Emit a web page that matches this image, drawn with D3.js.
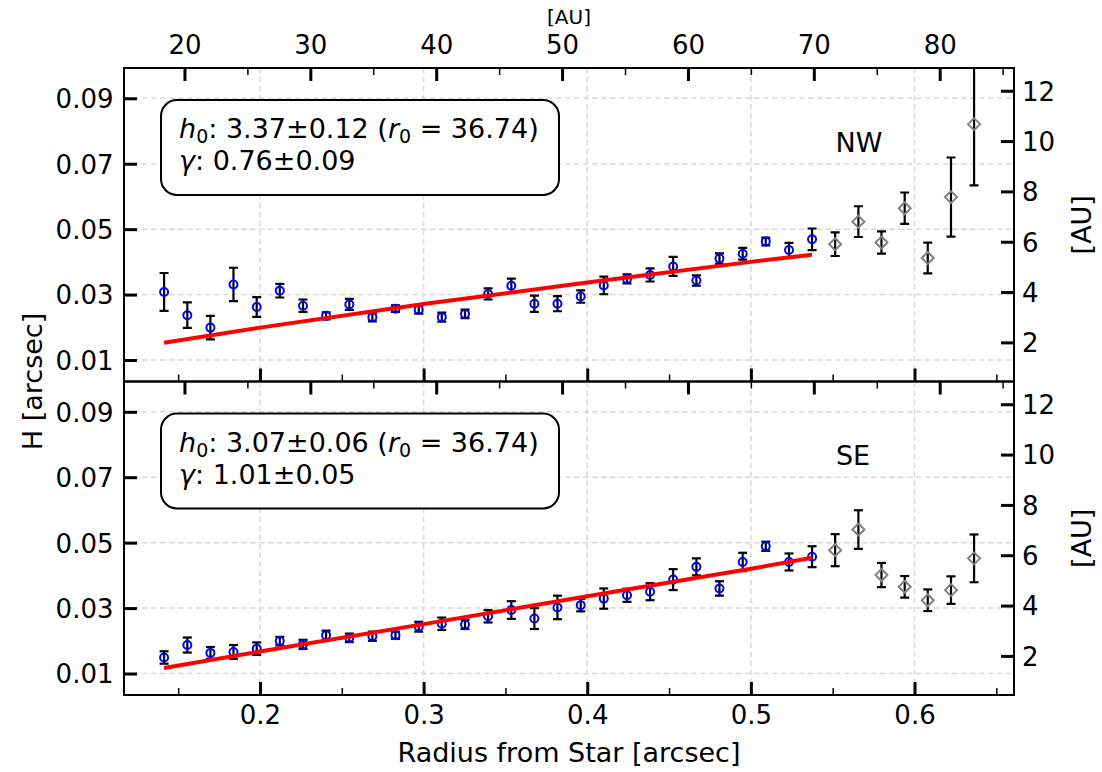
<!DOCTYPE html>
<html><head><meta charset="utf-8">
<script src="https://cdn.jsdelivr.net/npm/d3@7"></script>
<style>body{margin:0;background:#fff} text{font-family:'DejaVu Sans',sans-serif}</style>
</head><body><svg id="c" width="1102" height="772" xmlns="http://www.w3.org/2000/svg"></svg>
<script>
// ---------- data ----------
const radiusInner = [0.1414,0.1556,0.1697,0.1838,0.1980,0.2121,0.2263,0.2404,0.2546,0.2687,
  0.2828,0.2970,0.3111,0.3253,0.3394,0.3536,0.3677,0.3818,0.3960,0.4101,
  0.4243,0.4384,0.4525,0.4667,0.4808,0.4950,0.5091,0.5233,0.5374];
const radiusOuter = [0.5515,0.5657,0.5798,0.5940,0.6081,0.6223,0.6364];

const nwH   = [0.0308,0.0237,0.0199,0.0331,0.0262,0.0312,0.0266,0.0235,0.0270,0.0231,
  0.0257,0.0254,0.0231,0.0241,0.0302,0.0327,0.0272,0.0272,0.0294,0.0328,
  0.0348,0.0360,0.0386,0.0343,0.0410,0.0425,0.0462,0.0436,0.0469];
const nwErr = [0.0058,0.0039,0.0036,0.0051,0.0030,0.0021,0.0019,0.0011,0.0017,0.0013,
  0.0010,0.0012,0.0014,0.0013,0.0017,0.0022,0.0025,0.0023,0.0019,0.0027,
  0.0014,0.0020,0.0029,0.0016,0.0016,0.0018,0.0012,0.0022,0.0033];
const nwOuterH   = [0.0454,0.0523,0.0459,0.0564,0.0412,0.0598,0.0821];
const nwOuterErr = [0.0036,0.0047,0.0034,0.0048,0.0047,0.0121,0.0187];

const seH   = [0.0149,0.0187,0.0163,0.0166,0.0176,0.0199,0.0189,0.0217,0.0209,0.0214,
  0.0217,0.0243,0.0252,0.0250,0.0275,0.0294,0.0268,0.0302,0.0309,0.0329,
  0.0339,0.0350,0.0387,0.0426,0.0360,0.0441,0.0489,0.0441,0.0457];
const seErr = [0.0019,0.0023,0.0018,0.0021,0.0019,0.0013,0.0014,0.0014,0.0013,0.0014,
  0.0011,0.0015,0.0019,0.0014,0.0019,0.0027,0.0032,0.0036,0.0019,0.0031,
  0.0020,0.0026,0.0032,0.0026,0.0022,0.0028,0.0014,0.0026,0.0032];
const seOuterH   = [0.0477,0.0540,0.0401,0.0365,0.0324,0.0355,0.0452];
const seOuterErr = [0.0049,0.0059,0.0037,0.0033,0.0033,0.0042,0.0073];

// fit lines
const fitRadius = [0.1414,0.2,0.3,0.4,0.5,0.5374];
const nwFit = [0.0153,0.0199,0.0271,0.0337,0.0400,0.0422];
const seFit = [0.0117,0.0167,0.0251,0.0336,0.0420,0.0454];

const panelNames  = ["NW","SE"];
const h0Labels    = ["3.37\u00b10.12","3.07\u00b10.06"];
const gammaLabels = ["0.76\u00b10.09","1.01\u00b10.05"];
const r0Label = "36.74";

const xTicks  = [0.2,0.3,0.4,0.5,0.6];
const xMinor  = [0.15,0.25,0.35,0.45,0.55,0.65];
const auTicks = [20,30,40,50,60,70,80];
const auMinor = [25,35,45,55,65,75,85];
const yTicks  = [0.01,0.03,0.05,0.07,0.09];
const auYTicks = [2,4,6,8,10,12];
const DIST = 130; // pc: AU = arcsec * DIST

// ---------- layout ----------
const L = 124, R = 1014, T = 68, MID = 381.5, B = 695;
const xDom = [0.1169, 0.6608], yDom = [0.00343, 0.09926];
const svg = d3.select('#c');
const x = d3.scaleLinear().domain(xDom).range([L, R]);
const xAU = d3.scaleLinear().domain(xDom.map(v => v * DIST)).range([L, R]);
const FONT = 26, LFONT = 27, BFONT = 27;

const panels = [
  {name: panelNames[0], h: nwH, e: nwErr, oh: nwOuterH, oe: nwOuterErr, fit: nwFit, h0: h0Labels[0], g: gammaLabels[0], top: T, bot: MID},
  {name: panelNames[1], h: seH, e: seErr, oh: seOuterH, oe: seOuterErr, fit: seFit, h0: h0Labels[1], g: gammaLabels[1], top: MID, bot: B}
];

function styleAxis(sel, w) {
  sel.select('.domain').remove();
  sel.attr('font-family', 'DejaVu Sans').attr('font-size', FONT);
  sel.selectAll('.tick line').attr('stroke', '#000').attr('stroke-width', w);
  sel.selectAll('.tick text').attr('fill', '#000');
}

panels.forEach((p, i) => {
  const top = p.top, bot = p.bot;
  const y = d3.scaleLinear().domain(yDom).range([bot, top]);
  const yAU = d3.scaleLinear().domain(yDom.map(v => v * DIST)).range([bot, top]);
  const cid = 'clip' + i;
  svg.append('clipPath').attr('id', cid).append('rect')
    .attr('x', L).attr('y', top).attr('width', R - L).attr('height', bot - top);

  // grid
  const grid = svg.append('g').attr('stroke', '#d8d8d8').attr('stroke-width', 1.5).attr('stroke-dasharray', '5.5,3.5');
  grid.selectAll('.gx').data(xTicks).join('line').attr('class','gx')
    .attr('x1', d => x(d)).attr('x2', d => x(d)).attr('y1', top).attr('y2', bot);
  grid.selectAll('.gy').data(yTicks).join('line').attr('class','gy')
    .attr('x1', L).attr('x2', R).attr('y1', d => y(d)).attr('y2', d => y(d));

  // annotation box
  svg.append('rect').attr('x', 161).attr('y', top + 32).attr('width', 398).attr('height', 95)
    .attr('rx', 16).attr('ry', 16).attr('fill', '#fff').attr('stroke', '#000').attr('stroke-width', 2);
  const t1 = svg.append('text').attr('x', 179).attr('y', top + 70).attr('font-size', BFONT);
  t1.append('tspan').attr('font-style', 'italic').text('h');
  t1.append('tspan').attr('font-size', 19).attr('dy', 5).text('0');
  t1.append('tspan').attr('dy', -5).text(': ' + p.h0 + ' (');
  t1.append('tspan').attr('font-style', 'italic').text('r');
  t1.append('tspan').attr('font-size', 19).attr('dy', 5).text('0');
  t1.append('tspan').attr('dy', -5).text(' = ' + r0Label + ')');
  const t2 = svg.append('text').attr('x', 179).attr('y', top + 102).attr('font-size', BFONT);
  t2.append('tspan').attr('font-style', 'italic').text('\u03b3');
  t2.append('tspan').text(': ' + p.g);

  svg.append('text').attr('x', i ? 853 : 859).attr('y', top + 83.7).attr('text-anchor', 'middle')
    .attr('font-size', LFONT).text(p.name);

  const plot = svg.append('g').attr('clip-path', `url(#${cid})`);
  const inner = radiusInner.map((r, k) => ({r, h: p.h[k], e: p.e[k]}));
  const outer = radiusOuter.map((r, k) => ({r, h: p.oh[k], e: p.oe[k]}));
  const all = inner.concat(outer);
  const eb = plot.append('g').attr('stroke', '#000').attr('stroke-width', 2.2);
  eb.selectAll('.v').data(all).join('line').attr('class','v')
    .attr('x1', d => x(d.r)).attr('x2', d => x(d.r)).attr('y1', d => y(d.h - d.e)).attr('y2', d => y(d.h + d.e));
  eb.selectAll('.c1').data(all).join('line').attr('class','c1')
    .attr('x1', d => x(d.r) - 4.5).attr('x2', d => x(d.r) + 4.5).attr('y1', d => y(d.h - d.e)).attr('y2', d => y(d.h - d.e));
  eb.selectAll('.c2').data(all).join('line').attr('class','c2')
    .attr('x1', d => x(d.r) - 4.5).attr('x2', d => x(d.r) + 4.5).attr('y1', d => y(d.h + d.e)).attr('y2', d => y(d.h + d.e));

  plot.selectAll('.pt').data(inner).join('circle').attr('class','pt')
    .attr('cx', d => x(d.r)).attr('cy', d => y(d.h)).attr('r', 4)
    .attr('fill', 'none').attr('stroke', '#0000ff').attr('stroke-width', 2);
  plot.selectAll('.dm').data(outer).join('path').attr('class','dm')
    .attr('d', d => { const cx = x(d.r), cy = y(d.h), s = 6; return `M${cx},${cy - s}L${cx + s},${cy}L${cx},${cy + s}L${cx - s},${cy}Z`; })
    .attr('fill', 'none').attr('stroke', '#808080').attr('stroke-width', 2);

  plot.append('path').datum(fitRadius.map((r, k) => [r, p.fit[k]]))
    .attr('d', d3.line().x(d => x(d[0])).y(d => y(d[1])))
    .attr('fill', 'none').attr('stroke', '#ff0000').attr('stroke-width', 4);

  // axes (inward ticks)
  const bMaj = svg.append('g').attr('transform', `translate(0,${bot})`)
    .call(d3.axisBottom(x).tickValues(xTicks).tickSize(-13).tickPadding(11).tickFormat(i ? d3.format('.1f') : () => ''));
  styleAxis(bMaj, 3);
  const bMin = svg.append('g').attr('transform', `translate(0,${bot})`)
    .call(d3.axisBottom(x).tickValues(xMinor).tickSize(-7).tickFormat(() => ''));
  styleAxis(bMin, 1.5);
  const tMaj = svg.append('g').attr('transform', `translate(0,${top})`)
    .call(d3.axisTop(xAU).tickValues(auTicks).tickSize(-13).tickPadding(14).tickFormat(i ? () => '' : d3.format('d')));
  styleAxis(tMaj, 3);
  const tMin = svg.append('g').attr('transform', `translate(0,${top})`)
    .call(d3.axisTop(xAU).tickValues(auMinor).tickSize(-7).tickFormat(() => ''));
  styleAxis(tMin, 1.5);
  const lAx = svg.append('g').attr('transform', `translate(${L},0)`)
    .call(d3.axisLeft(y).tickValues(yTicks).tickSize(-13).tickPadding(10.5).tickFormat(d3.format('.2f')));
  styleAxis(lAx, 3);
  lAx.selectAll('.tick text').attr('dy', '0.36em');
  const rAx = svg.append('g').attr('transform', `translate(${R},0)`)
    .call(d3.axisRight(yAU).tickValues(auYTicks).tickSize(-13).tickPadding(8).tickFormat(d3.format('d')));
  styleAxis(rAx, 3);
  rAx.selectAll('.tick text').attr('dy', '0.36em');

  svg.append('rect').attr('x', L).attr('y', top).attr('width', R - L).attr('height', bot - top)
    .attr('fill', 'none').attr('stroke', '#000').attr('stroke-width', 2);

  svg.append('text').attr('transform', `translate(1091,${(top + bot) / 2}) rotate(-90)`)
    .attr('text-anchor', 'middle').attr('font-size', LFONT).text('[AU]');
});

svg.append('text').attr('transform', `translate(42,${(T + B) / 2}) rotate(-90)`)
  .attr('text-anchor', 'middle').attr('font-size', LFONT).text('H [arcsec]');
svg.append('text').attr('x', 569).attr('y', 762).attr('text-anchor', 'middle')
  .attr('font-size', LFONT).text('Radius from Star [arcsec]');
svg.append('text').attr('x', 569).attr('y', 24).attr('text-anchor', 'middle')
  .attr('font-size', 20).text('[AU]');
</script></body></html>
